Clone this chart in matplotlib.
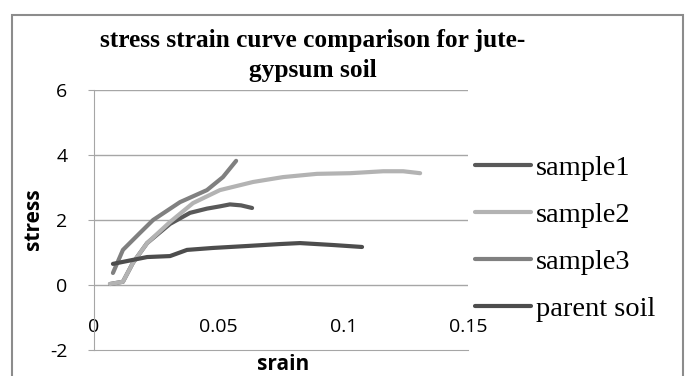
import matplotlib.pyplot as plt
from matplotlib.patches import Rectangle

# values
sample1_x = [0.0064, 0.0116, 0.0156, 0.0213, 0.0305, 0.0385, 0.0453, 0.0505, 0.0545, 0.0590, 0.0634]
sample1_y = [0.03, 0.10, 0.68, 1.29, 1.88, 2.22, 2.35, 2.42, 2.48, 2.45, 2.37]

sample2_x = [0.0064, 0.0116, 0.0156, 0.0213, 0.0305, 0.0397, 0.0505, 0.0638, 0.0758,
             0.0894, 0.1027, 0.1160, 0.1240, 0.1308]
sample2_y = [0.03, 0.10, 0.68, 1.29, 1.94, 2.52, 2.92, 3.17, 3.32, 3.42, 3.44, 3.50, 3.50, 3.44]

sample3_x = [0.0076, 0.0116, 0.0184, 0.0237, 0.0345, 0.0453, 0.0517, 0.0570]
sample3_y = [0.37, 1.08, 1.60, 2.00, 2.55, 2.92, 3.32, 3.82]

parent_x = [0.0076, 0.0213, 0.0305, 0.0373, 0.0477, 0.0614, 0.0746, 0.0826, 0.0959, 0.1075]
parent_y = [0.65, 0.86, 0.89, 1.08, 1.14, 1.20, 1.26, 1.29, 1.23, 1.17]

x_ticks = [0, 0.05, 0.1, 0.15]
x_tick_labels = ['0', '0.05', '0.1', '0.15']
y_ticks = [-2, 0, 2, 4, 6]

W, H = 686, 376
fig = plt.figure(figsize=(W / 100, H / 100), dpi=100)
ax = fig.add_axes([94 / W, 1 - 350 / H, (468 - 94) / W, (350 - 90) / H])

lw = 3.0
ax.plot(sample1_x, sample1_y, color='#595959', lw=lw, solid_capstyle='round', label='sample1')
ax.plot(sample2_x, sample2_y, color='#b3b3b3', lw=lw, solid_capstyle='round', label='sample2')
ax.plot(sample3_x, sample3_y, color='#808080', lw=lw, solid_capstyle='round', label='sample3')
ax.plot(parent_x, parent_y, color='#4d4d4d', lw=lw, solid_capstyle='round', label='parent soil')

ax.set_xlim(0, 0.15)
ax.set_ylim(-2, 6)
ax.set_yticks(y_ticks)
ax.set_yticklabels([str(v) for v in y_ticks])
ax.set_xticks(x_ticks)
ax.set_xticklabels(x_tick_labels)

for g in [0, 2, 4, 6]:
    ax.axhline(g, color='#a6a6a6', lw=1.0, zorder=0)

for side in ['top', 'right']:
    ax.spines[side].set_visible(False)
ax.spines['left'].set_color('#a6a6a6')
ax.spines['bottom'].set_color('#a6a6a6')

for lab in ax.get_yticklabels() + ax.get_xticklabels():
    lab.set_fontfamily('Open Sans')
    lab.set_fontsize(14)
ax.tick_params(axis='y', length=4, color='#a6a6a6', pad=15)
ax.tick_params(axis='x', length=0, pad=-23)

fig.text(34 / W, 1 - 219 / H, 'stress', rotation=90, ha='center', va='center',
         family='Open Sans', weight='bold', size=15)
fig.text(283 / W, 1 - 364 / H, 'srain', ha='center', va='center',
         family='Open Sans', weight='bold', size=15)

fig.text(313 / W, 1 - 41 / H, 'stress strain curve comparison for jute-', ha='center', va='center',
         family='Liberation Serif', weight='bold', size=18.3)
fig.text(313 / W, 1 - 71 / H, 'gypsum soil', ha='center', va='center',
         family='Liberation Serif', weight='bold', size=18.3)

ax.legend(loc='upper left', bbox_to_anchor=(475 / W, 1 - 155 / H), bbox_transform=fig.transFigure,
          frameon=False, prop=dict(family='Liberation Serif', size=20.5),
          handlelength=1.95, handletextpad=0.18, labelspacing=0.74, borderpad=0, borderaxespad=0)

fig.add_artist(Rectangle((12 / W, -0.05), (683 - 12) / W, 1.05 - 15 / H, transform=fig.transFigure,
                         fill=False, edgecolor='#8c8c8c', lw=1.5))

fig.savefig('out.png', dpi=100)
